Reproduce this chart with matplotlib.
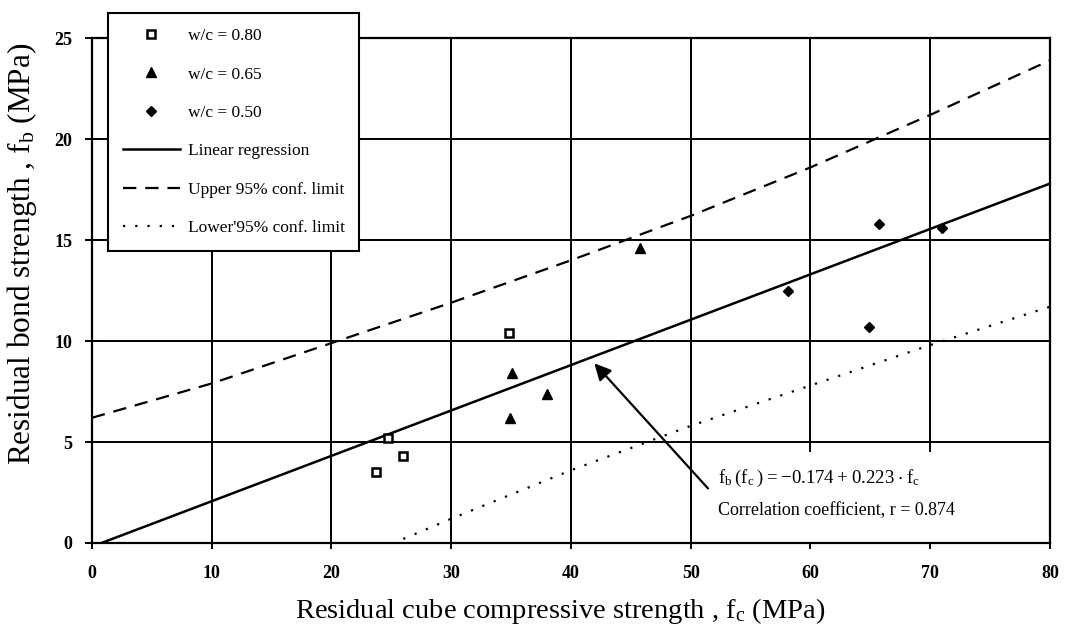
import matplotlib
matplotlib.use("Agg")
import matplotlib.pyplot as plt
from matplotlib.patches import Rectangle

plt.rcParams['font.family'] = ['Liberation Serif', 'DejaVu Serif']
plt.rcParams['mathtext.default'] = 'regular'

# data
fc_080 = [23.7, 24.7, 26.0, 34.8]
fb_080 = [3.5, 5.2, 4.3, 10.4]
fc_065 = [34.9, 35.1, 38.0, 45.8]
fb_065 = [6.2, 8.4, 7.4, 14.6]
fc_050 = [58.1, 64.9, 65.7, 71.0]
fb_050 = [12.5, 10.7, 15.8, 15.6]

reg_x = [0.8, 80]
reg_y = [0.0, 17.8]
upper_x = [0, 10, 20, 30, 40, 50, 60, 70, 80]
upper_y = [6.2, 7.9, 9.9, 11.9, 14.0, 16.2, 18.6, 21.2, 23.9]
lower_x = [26, 30, 40, 50, 60, 70, 80]
lower_y = [0.2, 1.2, 3.6, 5.8, 7.8, 9.8, 11.7]

x_ticks = [0, 10, 20, 30, 40, 50, 60, 70, 80]
x_ticklabels = ['0', '10', '20', '30', '40', '50', '60', '70', '80']
y_ticks = [0, 5, 10, 15, 20, 25]

fig = plt.figure(figsize=(10.68, 6.31), dpi=100)
ax = fig.add_axes([0.0861, 0.1395, 0.897, 0.800])

ax.set_xlim(0, 80)
ax.set_ylim(0, 25)
ax.set_axisbelow(True)
ax.grid(True, color='black', linewidth=1.4)
for sp in ax.spines.values():
    sp.set_linewidth(1.6)

# white box behind the equation text
ax.add_patch(Rectangle((50.3, 0.05), 29.6, 4.45, facecolor='white', edgecolor='none', zorder=1))

ax.plot(fc_080, fb_080, linestyle='none', marker='s', markersize=6, markerfacecolor='white',
        markeredgecolor='black', markeredgewidth=1.8, label='w/c = 0.80', zorder=4)
ax.plot(fc_065, fb_065, linestyle='none', marker='^', markersize=7, color='black', label='w/c = 0.65', zorder=4)
ax.plot(fc_050, fb_050, linestyle='none', marker='D', markersize=5.5, color='black', label='w/c = 0.50', zorder=4)
ax.plot(reg_x, reg_y, color='black', linewidth=1.8, label='Linear regression', zorder=3)
ax.plot(upper_x, upper_y, color='black', linewidth=1.6, linestyle=(0, (6, 4)), label='Upper 95% conf. limit', zorder=3)
ax.plot(lower_x, lower_y, color='black', linewidth=1.6, linestyle=(0, (1, 4.5)), label="Lower'95% conf. limit", zorder=3)

ax.annotate('', xy=(41.8, 9.0), xytext=(51.6, 2.6),
            arrowprops=dict(arrowstyle='-|>', color='black', lw=1.6, mutation_scale=25), zorder=5)
ax.text(52.3, 3.2, r'$f_b\,(f_c\,) = -0.174 + 0.223\cdot f_c$', fontsize=13.5,
        va='center', ha='left', zorder=5)
ax.text(52.3, 1.6, 'Correlation coefficient, r = 0.874', fontsize=13, va='center', ha='left', zorder=5)

ax.set_xticks(x_ticks)
ax.set_xticklabels(x_ticklabels)
ax.set_yticks(y_ticks)
ax.tick_params(axis='x', direction='inout', length=8, width=1.4, pad=12, labelsize=13)
ax.tick_params(axis='y', direction='inout', length=10, width=1.4, pad=9, labelsize=13)
for lab in ax.get_xticklabels() + ax.get_yticklabels():
    lab.set_fontweight('bold')

ax.set_xlabel(r'Residual cube compressive strength , $f_c$ (MPa)', fontsize=20.5)
ax.set_ylabel(r'Residual bond strength , $f_b$ (MPa)', fontsize=22.5)
ax.xaxis.set_label_coords(0.489, -0.105)
ax.yaxis.set_label_coords(-0.055, 0.572)

leg = fig.legend(loc='upper left', bbox_to_anchor=(0.101, 0.979), fontsize=12.5,
                 frameon=True, fancybox=False, framealpha=1, handlelength=3.3, handletextpad=0.45,
                 labelspacing=1.28, borderpad=0.85, borderaxespad=0)
leg.get_frame().set_edgecolor('black')
leg.get_frame().set_linewidth(1.5)
leg.set_zorder(10)

fig.savefig('out.png', dpi=100)
